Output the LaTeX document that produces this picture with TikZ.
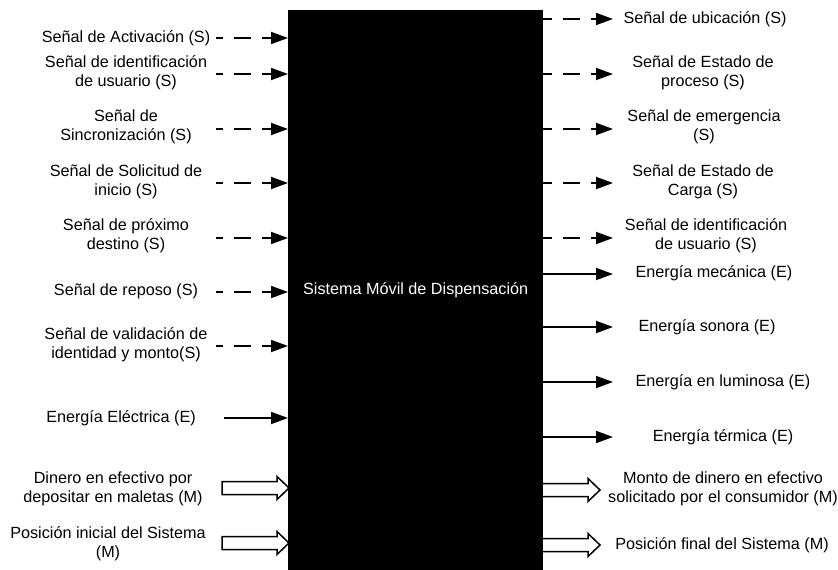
\documentclass[tikz,border=0pt]{standalone}
\usepackage{fontspec}
\setmainfont{Liberation Sans}
\usetikzlibrary{arrows.meta}
\newcommand{\hollowarr}[4]{% name, x start, x tip, y
  \coordinate (#1) at (#3,#4);
  \draw[hol] (#2,#4-6.5) -- (#3-12,#4-6.5) -- (#3-12,#4-11.5) -- (#1) -- (#3-12,#4+11.5) -- (#3-12,#4+6.5) -- (#2,#4+6.5);
}
\begin{document}
\begin{tikzpicture}[x=1pt,y=-1pt,
  lbl/.style={align=center, font=\fontsize{16.2}{18.8}\selectfont, inner sep=0pt},
  sig/.style={line width=1.8pt, dash pattern=on 17pt off 11pt, -{Triangle[length=17pt,width=12pt]}},
  flow/.style={line width=1.8pt, -{Triangle[length=17pt,width=12pt]}},
  hol/.style={line width=1.5pt, line join=miter}]
\useasboundingbox (0,0) rectangle (838,570);

% hollow arrows (drawn before box)
\draw[hol] (222,481.5) -- (277,481.5) -- (277,476.5) -- (289,488) -- (277,499.5) -- (277,494.5) -- (222,494.5) -- cycle;
\draw[hol] (222,536.5) -- (277,536.5) -- (277,531.5) -- (289,543) -- (277,554.5) -- (277,549.5) -- (222,549.5) -- cycle;

\node[fill=black, minimum width=255pt, minimum height=560pt, anchor=north west, inner sep=0pt,
  text=white, font=\fontsize{16.2}{18.8}\selectfont] (box) at (288,10) {Sistema Móvil de Dispensación};

% ---- left inputs ----
\node[lbl] (l1) at (126,38) {Señal de Activación (S)};
\node[lbl] (l2) at (126,72.5) {Señal de identificación\\de usuario (S)};
\node[lbl] (l3) at (126,126.5) {Señal de\\Sincronización (S)};
\node[lbl] (l4) at (126,181.5) {Señal de Solicitud de\\inicio (S)};
\node[lbl] (l5) at (126,236) {Señal de próximo\\destino (S)};
\node[lbl] (l6) at (126,291.5) {Señal de reposo (S)};
\node[lbl] (l7) at (126,345) {Señal de validación de\\identidad y monto(S)};
\node[lbl] (l8) at (121,418) {Energía Eléctrica (E)};
\node[lbl] (l9) at (113,488.5) {Dinero en efectivo por\\depositar en maletas (M)};
\node[lbl] (l10) at (108,543.5) {Posición inicial del Sistema\\(M)};

\coordinate (s1) at (216,38);
\coordinate (s2) at (216,74);
\coordinate (s3) at (216,129);
\coordinate (s4) at (216,183);
\coordinate (s5) at (216,238);
\coordinate (s6) at (216,292);
\coordinate (s7) at (216,346);
\coordinate (s8) at (224,418);
\foreach \i in {1,...,7}{
  \draw[sig, dash phase=10pt] (s\i) -- (box.west |- s\i);
}
\draw[flow] (s8) -- (box.west |- s8);

% ---- right outputs ----
\node[lbl] (r1) at (705,19) {Señal de ubicación (S)};
\node[lbl] (r2) at (703,73) {Señal de Estado de\\proceso (S)};
\node[lbl] (r3) at (704,127) {Señal de emergencia\\(S)};
\node[lbl] (r4) at (703,182) {Señal de Estado de\\Carga (S)};
\node[lbl] (r5) at (706,235.5) {Señal de identificación\\de usuario (S)};
\node[lbl] (r6) at (714,273) {Energía mecánica (E)};
\node[lbl] (r7) at (707,327) {Energía sonora (E)};
\node[lbl] (r8) at (723,382.5) {Energía en luminosa (E)};
\node[lbl] (r9) at (723,437) {Energía térmica (E)};
\node[lbl] (r10) at (723,489) {Monto de dinero en efectivo\\solicitado por el consumidor (M)};
\node[lbl] (r11) at (722,545.5) {Posición final del Sistema (M)};

\coordinate (e1) at (613,19);
\coordinate (e2) at (613,74);
\coordinate (e3) at (613,129);
\coordinate (e4) at (613,183);
\coordinate (e5) at (613,238);
\coordinate (e6) at (613,274);
\coordinate (e7) at (613,327);
\coordinate (e8) at (613,382);
\coordinate (e9) at (613,437);
\foreach \i in {1,...,5}{
  \draw[sig, dash phase=8pt] (box.east |- e\i) -- (e\i);
}
\foreach \i in {6,...,9}{
  \draw[flow] (box.east |- e\i) -- (e\i);
}
\hollowarr{e10}{543}{600}{490}
\hollowarr{e11}{543}{600}{545}
\end{tikzpicture}
\end{document}
